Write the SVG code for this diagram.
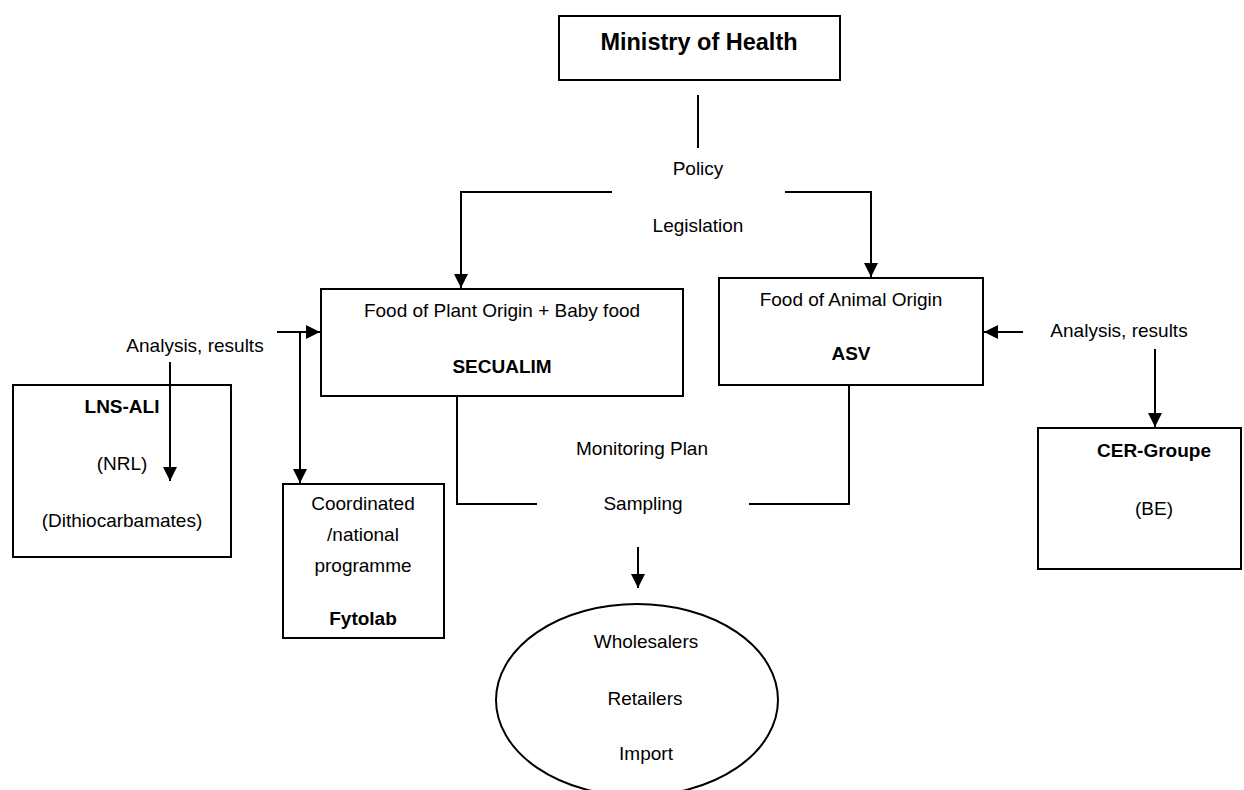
<svg xmlns="http://www.w3.org/2000/svg" width="1244" height="790" viewBox="0 0 1244 790">
<style>
text{font-family:"Liberation Sans",Arial,sans-serif;font-size:19px;fill:#000;text-anchor:middle}
.b{font-weight:bold}
.box{fill:none;stroke:#000;stroke-width:2}
.ln{fill:none;stroke:#000;stroke-width:2}
.ar{fill:none;stroke:#000;stroke-width:2;marker-end:url(#ah)}
</style>
<defs>
<marker id="ah" markerUnits="userSpaceOnUse" markerWidth="14" markerHeight="14" viewBox="0 0 14 14" refX="14" refY="7" orient="auto">
<path d="M0,0 L14,7 L0,14 Z" fill="#000"/>
</marker>
</defs>
<rect width="1244" height="790" fill="#fff"/>
<g id="ministry">
<rect class="box" x="559" y="16" width="281" height="64"/>
<text class="b" x="699" y="50" style="font-size:23.5px">Ministry of Health</text>
</g>
<g id="policy">
<text x="698" y="175">Policy</text>
<text x="698" y="232">Legislation</text>
</g>
<g id="plant">
<rect class="box" x="321" y="289" width="362" height="107"/>
<text x="502" y="317">Food of Plant Origin + Baby food</text>
<text class="b" x="502" y="373">SECUALIM</text>
</g>
<g id="animal">
<rect class="box" x="719" y="278" width="264" height="107"/>
<text x="851" y="306">Food of Animal Origin</text>
<text class="b" x="851" y="360">ASV</text>
</g>
<g id="analysis-left">
<text x="195" y="352">Analysis, results</text>
</g>
<g id="analysis-right">
<text x="1119" y="337">Analysis, results</text>
</g>
<g id="lns">
<rect class="box" x="13" y="385" width="218" height="172"/>
<text class="b" x="122" y="413">LNS-ALI</text>
<text x="122" y="470">(NRL)</text>
<text x="122" y="527">(Dithiocarbamates)</text>
</g>
<g id="fytolab">
<rect class="box" x="283" y="484" width="161" height="154"/>
<text x="363" y="510">Coordinated</text>
<text x="363" y="541">/national</text>
<text x="363" y="572">programme</text>
<text class="b" x="363" y="625">Fytolab</text>
</g>
<g id="cer">
<rect class="box" x="1038" y="428" width="203" height="141"/>
<text class="b" x="1154" y="457">CER-Groupe</text>
<text x="1154" y="515">(BE)</text>
</g>
<g id="monitoring">
<text x="642" y="455">Monitoring Plan</text>
<text x="643" y="510">Sampling</text>
</g>
<g id="market">
<ellipse class="box" cx="637" cy="700" rx="141" ry="96"/>
<text x="646" y="648">Wholesalers</text>
<text x="645" y="705">Retailers</text>
<text x="646" y="760">Import</text>
</g>
<g id="connectors">
<line class="ln" x1="698" y1="95" x2="698" y2="148"/>
<polyline class="ar" points="612,192 461,192 461,288"/>
<polyline class="ar" points="785,192 871,192 871,277"/>
<polyline class="ar" points="277,332 320,332"/>
<polyline class="ar" points="300,332 300,483"/>
<polyline class="ar" points="170,362 170,481"/>
<polyline class="ar" points="1023,332 984,332"/>
<polyline class="ar" points="1155,349 1155,427"/>
<polyline class="ln" points="457,396 457,504 537,504"/>
<polyline class="ln" points="849,385 849,504 749,504"/>
<polyline class="ar" points="638,547 638,588"/>
</g>
</svg>
